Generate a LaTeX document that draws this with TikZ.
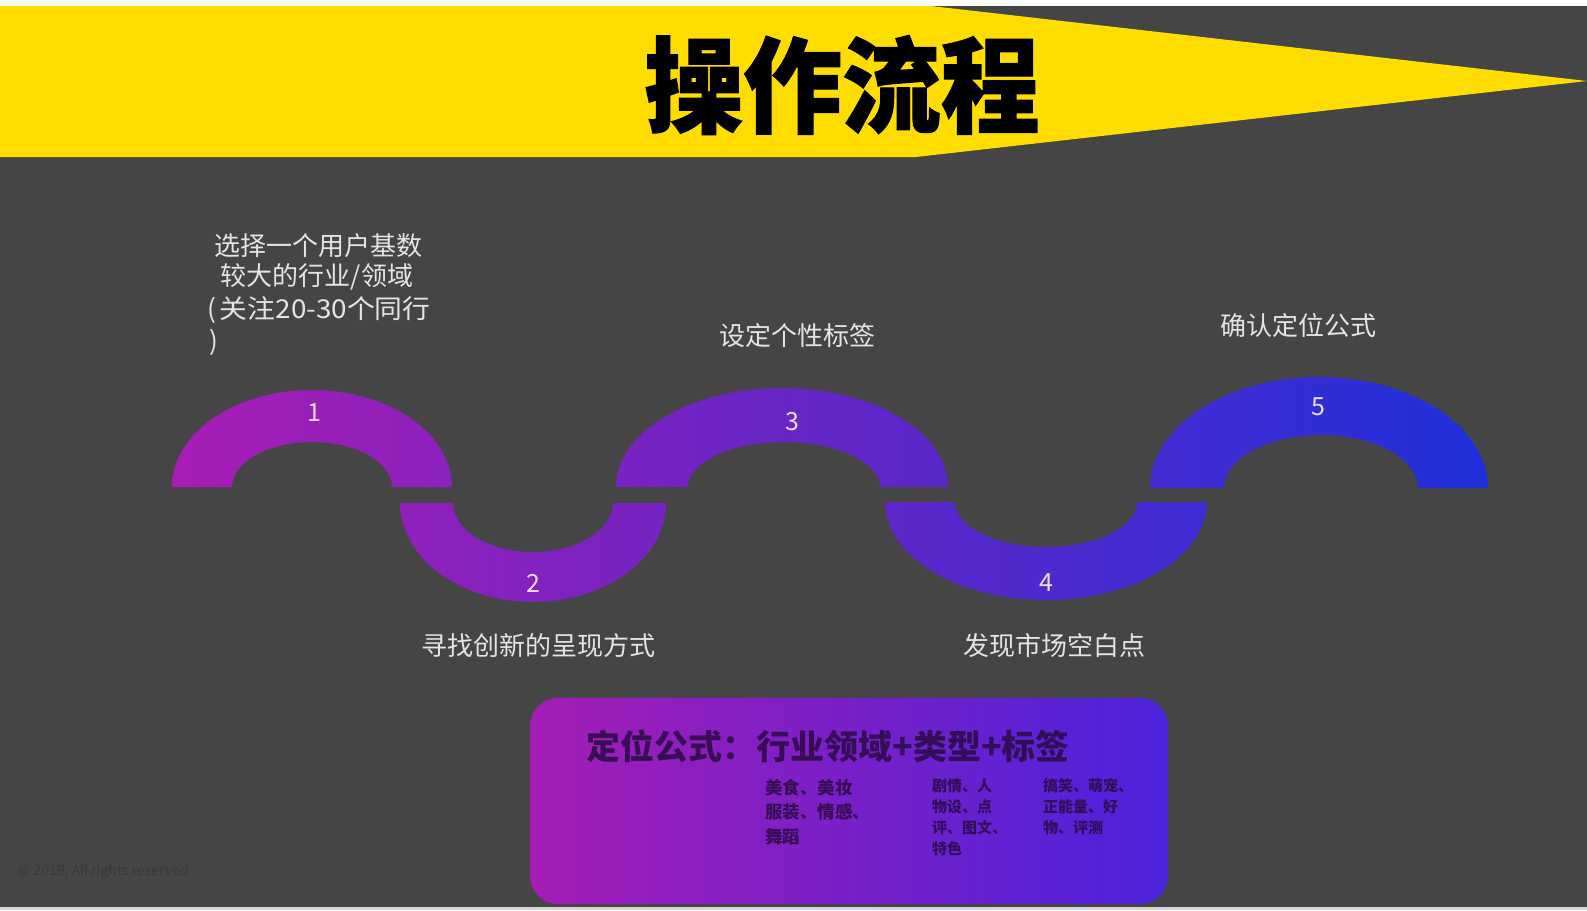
\documentclass[tikz,border=0pt]{standalone}
\usepackage{fontspec}
\setmainfont{Noto Sans CJK SC}
\newfontfamily\titlefont[BoldFeatures={FakeBold=1.2}]{Noto Sans CJK SC}
\definecolor{bgdark}{HTML}{454545}
\definecolor{stripgray}{HTML}{D6D6D6}
\definecolor{banner}{HTML}{FFDD00}
\definecolor{arcL}{HTML}{A81DB5}
\definecolor{arcR}{HTML}{1F2FDA}
\definecolor{boxL}{HTML}{A41DB6}
\definecolor{boxR}{HTML}{4B22DC}
\definecolor{labelgray}{HTML}{E4E4E4}
\definecolor{numcol}{HTML}{EEDCF2}
\definecolor{boxtext}{HTML}{2A0C42}
\definecolor{wmark}{HTML}{393939}
\tikzset{
  steplabel/.style={text=labelgray, inner sep=0pt, font=\fontsize{26}{32}\selectfont},
  stepnum/.style={text=numcol, inner sep=0pt, font=\fontsize{25}{30}\selectfont},
  boxsmall/.style={text=boxtext, text opacity=0.85, inner sep=0pt, anchor=north west, align=left},
}
\begin{document}
\begin{tikzpicture}[x=1pt,y=-1pt]
\useasboundingbox (0,0) rectangle (1587,910);
\fill[white] (0,0) rectangle (1587,910);
\fill[bgdark] (0,6) rectangle (1587,907);
\fill[stripgray] (0,907) rectangle (1587,910);
% banner
\fill[banner] (0,6) -- (931,6) -- (1587,81) -- (916,157) -- (0,157) -- cycle;
\node[inner sep=0pt, text=black] (title) at (842,85)
  {\scalebox{0.95}[1]{\titlefont\bfseries\fontsize{104}{110}\selectfont 操作流程}};
% wave of half rings
\shade[left color=arcL, right color=arcR]
  plot[domain=180:360,samples=60] ({312+140*cos(\x)},{487+97*sin(\x)})
  -- plot[domain=360:180,samples=60] ({312+80*cos(\x)},{487+45*sin(\x)}) -- cycle
  plot[domain=0:180,samples=60] ({533+133*cos(\x)},{503+99*sin(\x)})
  -- plot[domain=180:0,samples=60] ({533+80*cos(\x)},{503+49*sin(\x)}) -- cycle
  plot[domain=180:360,samples=60] ({782+166*cos(\x)},{487+99*sin(\x)})
  -- plot[domain=360:180,samples=60] ({784+96*cos(\x)},{487+45*sin(\x)}) -- cycle
  plot[domain=0:180,samples=60] ({1046+161*cos(\x)},{502+98*sin(\x)})
  -- plot[domain=180:0,samples=60] ({1046+91*cos(\x)},{502+45*sin(\x)}) -- cycle
  plot[domain=180:360,samples=60] ({1319+169*cos(\x)},{488+111*sin(\x)})
  -- plot[domain=360:180,samples=60] ({1321+97*cos(\x)},{488+53*sin(\x)}) -- cycle;
% numbers
\node[stepnum] (n1) at (314,413) {1};
\node[stepnum] (n2) at (533,583) {2};
\node[stepnum] (n3) at (792,422) {3};
\node[stepnum] (n4) at (1046,583) {4};
\node[stepnum] (n5) at (1318,407) {5};
% step labels
\node[steplabel] (t1a) at (318,246) {选择一个用户基数};
\node[steplabel] (t1b) at (317,277) {较大的行业/领域};
\node[steplabel, anchor=west] (t1c) at (207,310) {(\hspace{4pt}\scalebox{1.07}[1]{关注20-30个同行}};
\node[steplabel, anchor=west] (t1d) at (209,342) {)};
\node[steplabel] (t3) at (797,336) {设定个性标签};
\node[steplabel] (t5) at (1298,326) {确认定位公式};
\node[steplabel] (t2) at (538,646) {寻找创新的呈现方式};
\node[steplabel] (t4) at (1054,646) {发现市场空白点};
% formula box
\shade[left color=boxL, right color=boxR, rounded corners=28] (530,698) rectangle (1168,904);
\node[text=boxtext, text opacity=0.85, inner sep=0pt, font=\bfseries\fontsize{34}{40}\selectfont] (formula) at (828,746) {定位公式：行业领域+类型+标签};
\node[boxsmall, font=\bfseries\fontsize{17.5}{24.5}\selectfont] (c1) at (765,779) {美食、美妆\\服装、情感、\\舞蹈};
\node[boxsmall, font=\bfseries\fontsize{15}{21}\selectfont] (c2) at (932,778) {剧情、人\\物设、点\\评、图文、\\特色};
\node[boxsmall, font=\bfseries\fontsize{15}{21}\selectfont] (c3) at (1043,778) {搞笑、萌宠、\\正能量、好\\物、评测};
% watermark
\node[text=wmark, inner sep=0pt, anchor=west, font=\fontsize{14}{16}\selectfont] (wm) at (17,872) {@ 2019, All rights reserved .};
\end{tikzpicture}
\end{document}
